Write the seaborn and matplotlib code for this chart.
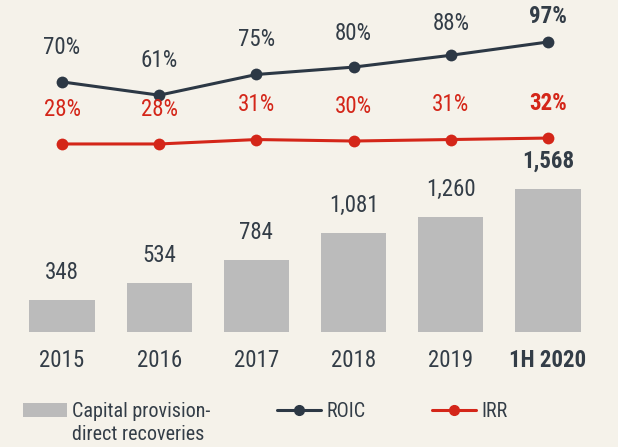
import numpy as np
import pandas as pd
import matplotlib
matplotlib.use("Agg")
import matplotlib.pyplot as plt
import seaborn as sns
from matplotlib.patches import Patch
from matplotlib.lines import Line2D

# chart data
years = ["2015", "2016", "2017", "2018", "2019", "1H 2020"]
recoveries = [348, 534, 784, 1081, 1260, 1568]
recovery_labels = ["348", "534", "784", "1,081", "1,260", "1,568"]
roic = [70, 61, 75, 80, 88, 97]
irr = [28, 28, 31, 30, 31, 32]

bg = "#F5F2EA"
navy = "#2C3845"
red = "#D42619"
grey = "#BBBBBB"
text_col = "#333D47"

sns.set_theme(style="white")
plt.rcParams["font.family"] = ["Roboto Condensed", "DejaVu Sans"]
plt.rcParams["font.stretch"] = "condensed"

df = pd.DataFrame({"year": years, "recoveries": recoveries})

fig = plt.figure(figsize=(6.18, 4.47), dpi=100, facecolor=bg)
ax = fig.add_axes([0.0217, 0.2573, 0.9437, 0.7427])
ax.set_facecolor("none")

sns.barplot(data=df, x="year", y="recoveries", color=grey, width=0.67,
            saturation=1, edgecolor="none", ax=ax)
ax.set_xlim(-0.5, 5.5)
ax.set_ylim(0, 3640)
ax.set_xlabel("")
ax.set_ylabel("")
ax.set_yticks([])
ax.tick_params(axis="x", length=0, pad=12, labelsize=16.5, labelcolor=text_col)
for i, lab in enumerate(ax.get_xticklabels()):
    if i == len(years) - 1:
        lab.set_fontweight("bold")
for s in ax.spines.values():
    s.set_visible(False)

for i, (v, lab) in enumerate(zip(recoveries, recovery_labels)):
    ax.annotate(lab, (i, v), xytext=(0, 20), textcoords="offset points",
                ha="center", va="center", fontsize=16.5, color=text_col,
                fontweight="bold" if i == len(years) - 1 else "normal")

# lines on a twin axis
ax2 = ax.twinx()
ax2.set_facecolor("none")
x = np.arange(len(years))
sns.lineplot(x=x, y=roic, color=navy, marker="o", markersize=8.5,
             markeredgewidth=0, linewidth=2.2, ax=ax2)
sns.lineplot(x=x, y=irr, color=red, marker="o", markersize=8.5,
             markeredgewidth=0, linewidth=2.2, ax=ax2)
ax2.set_ylim(-99.2, 125.4)
ax2.set_yticks([])
ax2.set_xlim(-0.5, 5.5)
for s in ax2.spines.values():
    s.set_visible(False)

roic_offsets = [25, 25, 25, 24, 23, 18]
for i in range(len(years)):
    bold = "bold" if i == len(years) - 1 else "normal"
    ax2.annotate(f"{roic[i]}%", (i, roic[i]), xytext=(0, roic_offsets[i]),
                 textcoords="offset points", ha="center", va="center",
                 fontsize=16.5, color=text_col, fontweight=bold)
    ax2.annotate(f"{irr[i]}%", (i, irr[i]), xytext=(0, 25),
                 textcoords="offset points", ha="center", va="center",
                 fontsize=16.5, color=red, fontweight=bold)

# legend
handles = [
    Patch(facecolor=grey, edgecolor="none"),
    Line2D([0], [0], color=navy, lw=2.2, marker="o", markersize=7),
    Line2D([0], [0], color=red, lw=2.2, marker="o", markersize=7),
]
fig.legend(handles, ["Capital provision-", "ROIC", "IRR"], ncol=3,
           loc="upper left", bbox_to_anchor=(0.0372, 0.1007), frameon=False,
           fontsize=14.5, handlelength=2.2, handletextpad=0.25,
           columnspacing=3.3, borderpad=0, borderaxespad=0,
           labelcolor=text_col)
fig.text(72 / 618, (447 - 435) / 447, "direct recoveries", fontsize=14.5,
         color=text_col, ha="left", va="center")

fig.savefig("out.png", dpi=100, facecolor=bg)
